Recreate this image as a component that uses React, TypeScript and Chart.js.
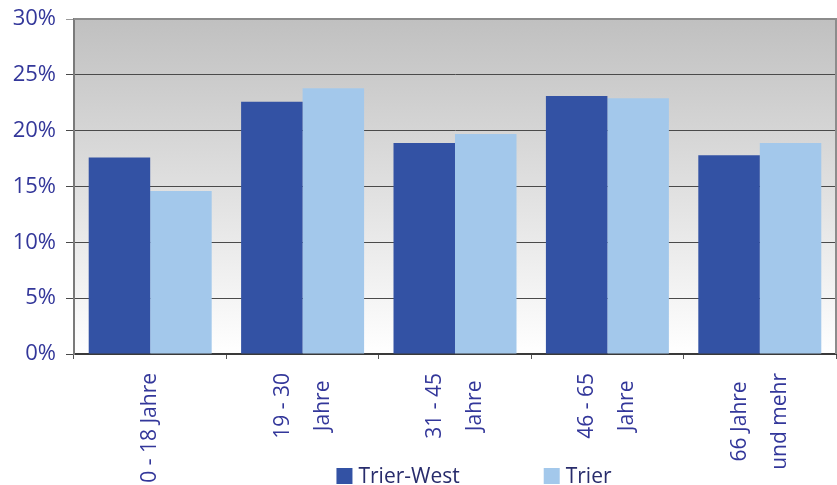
import React, { useEffect, useRef } from "react";
import { Chart, registerables } from "chart.js";

Chart.register(...registerables);

// Altersgruppen (mehrzeilige Beschriftungen)
const ageGroups: string[][] = [
  ["0 - 18 Jahre"],
  ["19 - 30", "Jahre"],
  ["31 - 45", "Jahre"],
  ["46 - 65", "Jahre"],
  ["66 Jahre", "und mehr"],
];

// Anteile in Prozent
const trierWest: number[] = [17.6, 22.6, 18.9, 23.1, 17.8];
const trier: number[] = [14.6, 23.8, 19.7, 22.9, 18.9];

const yTicks: number[] = [0, 5, 10, 15, 20, 25, 30];

const FONT = "'Open Sans', 'Noto Sans', sans-serif";
const LABEL_BLUE = "#33379a";
const LEGEND_NAVY = "#282c6c";
const DARK_BAR = "#3352a4";
const LIGHT_BAR = "#a3c8eb";

// Hintergrund mit Verlauf und Rahmen oben/rechts
const plotBackground = {
  id: "plotBackground",
  beforeDraw(chart: any) {
    const { ctx, chartArea } = chart;
    const { left, top, right, bottom } = chartArea;
    const g = ctx.createLinearGradient(0, top, 0, bottom);
    g.addColorStop(0, "#c0c0c0");
    g.addColorStop(1, "#ffffff");
    ctx.save();
    ctx.fillStyle = g;
    ctx.fillRect(left, top, right - left, bottom - top);
    ctx.restore();
  },
  afterDraw(chart: any) {
    const { ctx, chartArea } = chart;
    ctx.save();
    ctx.strokeStyle = "#8c8c8c";
    ctx.lineWidth = 2;
    ctx.beginPath();
    ctx.moveTo(chartArea.left, chartArea.top);
    ctx.lineTo(chartArea.right, chartArea.top);
    ctx.lineTo(chartArea.right, chartArea.bottom);
    ctx.stroke();
    ctx.restore();
  },
};

// Senkrechte, zentrierte Kategorienbeschriftungen
const rotatedCategoryLabels = {
  id: "rotatedCategoryLabels",
  afterDraw(chart: any) {
    const { ctx } = chart;
    const xScale = chart.scales.x;
    const labels = chart.data.labels as string[][];
    const lineGap = 40;
    const topY = xScale.top + 19;
    ctx.save();
    ctx.font = `21px ${FONT}`;
    ctx.fillStyle = LABEL_BLUE;
    ctx.textAlign = "center";
    ctx.textBaseline = "middle";
    labels.forEach((lines, i) => {
      const cx = xScale.getPixelForValue(i);
      const maxW = Math.max(...lines.map((l) => ctx.measureText(l).width));
      const cy = topY + maxW / 2;
      lines.forEach((line, j) => {
        const off = (j - (lines.length - 1) / 2) * lineGap;
        ctx.save();
        ctx.translate(cx + off, cy);
        ctx.rotate(-Math.PI / 2);
        ctx.fillText(line, 0, 0);
        ctx.restore();
      });
    });
    ctx.restore();
  },
};

// Legende unterhalb der Beschriftungen
const bottomLegend = {
  id: "bottomLegend",
  afterDraw(chart: any) {
    const { ctx, chartArea } = chart;
    const box = 16;
    const textGap = 6;
    const itemGap = 84;
    ctx.save();
    ctx.font = `21px ${FONT}`;
    ctx.textBaseline = "middle";
    ctx.textAlign = "left";
    const items = chart.data.datasets.map((ds: any) => ({
      text: ds.label as string,
      color: ds.backgroundColor as string,
      w: ctx.measureText(ds.label).width,
    }));
    const total =
      items.reduce((s: number, it: any) => s + box + textGap + it.w, 0) +
      itemGap * (items.length - 1);
    const centerX = (chartArea.left + chartArea.right) / 2 + 19;
    let x = centerX - total / 2;
    const cy = chartArea.bottom + 122;
    items.forEach((it: any) => {
      ctx.fillStyle = it.color;
      ctx.fillRect(x, cy - box / 2, box, box);
      ctx.fillStyle = LEGEND_NAVY;
      ctx.fillText(it.text, x + box + textGap, cy + 1);
      x += box + textGap + it.w + itemGap;
    });
    ctx.restore();
  },
};

export default function App() {
  const canvasRef = useRef<HTMLCanvasElement | null>(null);

  useEffect(() => {
    if (!canvasRef.current) return;
    const chart = new Chart(canvasRef.current, {
      type: "bar",
      data: {
        labels: ageGroups as any,
        datasets: [
          {
            label: "Trier-West",
            data: trierWest,
            backgroundColor: DARK_BAR,
            borderWidth: 0,
          },
          {
            label: "Trier",
            data: trier,
            backgroundColor: LIGHT_BAR,
            borderWidth: 0,
          },
        ],
      },
      options: {
        animation: false,
        responsive: false,
        devicePixelRatio: 1,
        layout: { padding: { top: 19, right: 1, left: 0, bottom: 0 } },
        datasets: {
          bar: { categoryPercentage: 0.807, barPercentage: 1 },
        },
        plugins: {
          legend: { display: false },
          tooltip: { enabled: false },
        },
        scales: {
          x: {
            offset: true,
            grid: {
              offset: true,
              drawOnChartArea: false,
              drawTicks: true,
              tickLength: 5,
              color: "#555555",
            },
            border: { display: true, color: "#3a3a3a", width: 2 },
            ticks: { display: false },
            afterFit: (s: any) => {
              s.height = 131;
            },
          },
          y: {
            min: 0,
            max: 30,
            afterBuildTicks: (s: any) => {
              s.ticks = yTicks.map((v) => ({ value: v }));
            },
            grid: {
              color: (c: any) =>
                c.tick && c.tick.value === 30 ? "#9a9a9a" : "#4a4a4a",
              lineWidth: 1,
              tickLength: 8,
            },
            border: { display: true, color: "#7a7a7a", width: 2 },
            ticks: {
              padding: 10,
              color: LABEL_BLUE,
              font: { family: FONT, size: 22 },
              callback: (v: any) => `${v}%`,
            },
            afterFit: (s: any) => {
              s.width = 74;
              s.paddingTop = 0;
              s.paddingBottom = 0;
            },
          },
        },
      },
      plugins: [plotBackground, rotatedCategoryLabels, bottomLegend],
    });
    return () => chart.destroy();
  }, []);

  return (
    <div style={{ position: "absolute", left: 0, top: 0, width: 837, height: 485 }}>
      <canvas ref={canvasRef} width={837} height={485} />
    </div>
  );
}
